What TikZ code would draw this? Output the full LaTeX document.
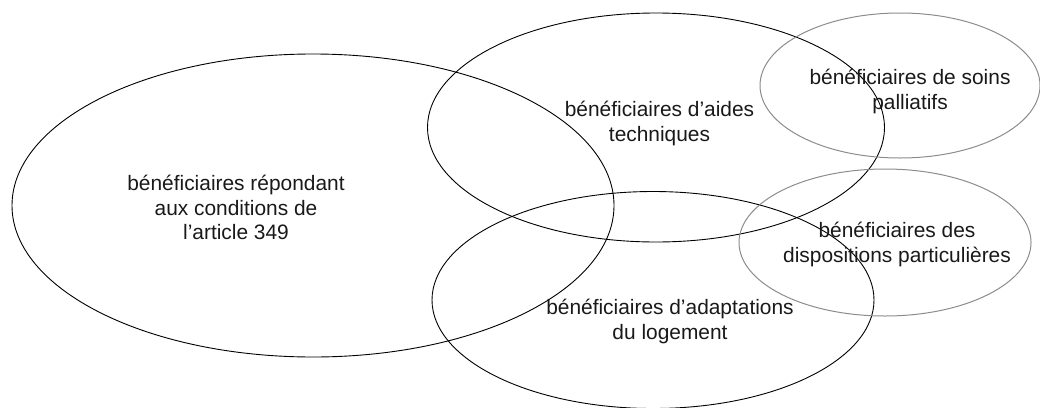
\documentclass[tikz,border=0pt]{standalone}
\usepackage{fontspec}
\setmainfont{Liberation Sans}
\tikzset{
  set/.style={draw=black,line width=0.9pt},
  lightset/.style={draw=black!45,line width=1pt},
  setlabel/.style={align=center,font=\fontsize{20.9}{24.2}\selectfont,text=black!90,inner sep=0pt}
}
\begin{document}
\begin{tikzpicture}[x=1pt,y=-1pt]
    \useasboundingbox (0,0) rectangle (1040,407);

    \draw[set] (313,205.5) ellipse (301 and 151.5);
    \draw[set] (656,127.5) ellipse (228.5 and 114.5);
    \draw[set] (653,300) ellipse (221 and 108.5);
    \draw[lightset] (900,85.5) ellipse (140 and 72.5);
    \draw[lightset] (885,242.5) ellipse (146 and 73.5);

    \node[setlabel] (article) at (236,207.5) {bénéficiaires répondant\\aux conditions de\\l’article 349};
    \node[setlabel] (aides) at (659.5,123.5) {bénéficiaires d’aides\\techniques};
    \node[setlabel] (soins) at (910,91.5) {bénéficiaires de soins\\palliatifs};
    \node[setlabel] (dispo) at (897,244.5) {bénéficiaires des\\dispositions particulières};
    \node[setlabel] (logement) at (670,321.5) {bénéficiaires d’adaptations\\du logement};
  \end{tikzpicture}
\end{document}
